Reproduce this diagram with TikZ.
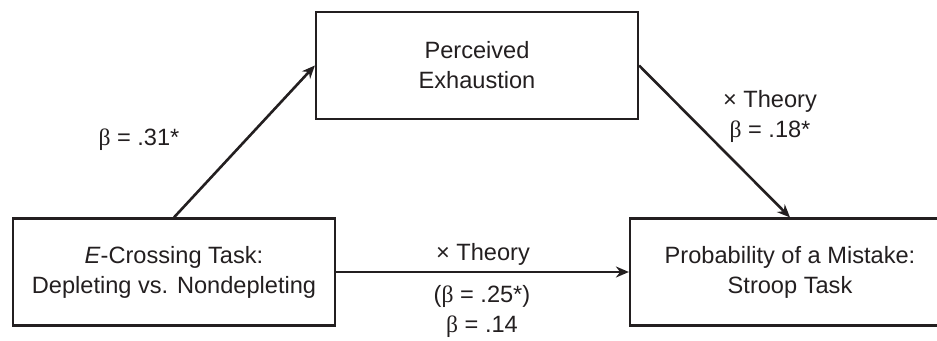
\documentclass[tikz,border=0pt]{standalone}
\usepackage{fontspec}
\setmainfont{Liberation Sans}
\newfontfamily\betafont{Liberation Serif}
\usetikzlibrary{arrows.meta, positioning}
\newcommand{\bt}{{\betafont β}}
\definecolor{ink}{HTML}{231F20}

\begin{document}
\begin{tikzpicture}[
    x=1pt, y=-1pt,
    font=\fontsize{23.6}{30}\selectfont,
    every node/.style={text=ink},
    var/.style={rectangle, draw=ink, line width=2.2pt, minimum width=322pt, minimum height=107pt, align=center, inner sep=0pt},
    coef/.style={align=center, inner sep=0pt},
    arrow/.style={draw=ink, line width=2.6pt, -{Stealth[length=13pt, width=11pt]}}
]
\useasboundingbox (0,0) rectangle (937,340);

% Variables
\node[var] (exhaust) at (477,65.5) {Perceived\\Exhaustion};
\node[var] (task) at (174,272) {\textit{E}-Crossing Task:\\Depleting vs. Nondepleting};
\node[var, minimum width=320pt] (mistake) at (790,272) {Probability of a Mistake:\\Stroop Task};

% Paths
\draw[arrow] (task.north) -- (exhaust.west);
\draw[arrow] (exhaust.east) -- (mistake.north);
\draw[arrow] (task.east) -- (mistake.west);

% Coefficients
\node[coef] (apath) at (139,140) {\bt{} = .31*};
\node[coef] (bpath) at (770,116) {× Theory\\\bt{} = .18*};
\node[coef] (ctheory) at (483,254) {× Theory};
\node[coef] (cpath) at (482,311) {(\bt{} = .25*)\\\bt{} = .14};

\end{tikzpicture}
\end{document}
